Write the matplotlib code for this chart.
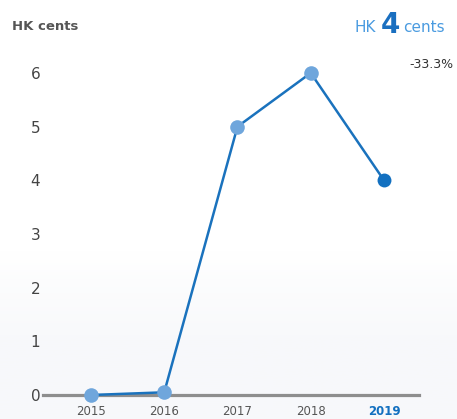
import numpy as np
import matplotlib.pyplot as plt
from matplotlib.colors import LinearSegmentedColormap

# data
years = [2015, 2016, 2017, 2018, 2019]
year_labels = ['2015', '2016', '2017', '2018', '2019']
dividend = [0, 0.05, 5, 6, 4]
y_ticks = [0, 1, 2, 3, 4, 5, 6]

line_col = '#1a72bd'
dot_col = '#6fa6dc'
last_col = '#1270c0'

fig = plt.figure(figsize=(4.57, 4.19), dpi=100)
fig.patch.set_facecolor('white')

# faint grey fade at the bottom, drawn behind everything
bg = fig.add_axes([0, 0, 1, 1], zorder=-1)
bg.axis('off')
fade = LinearSegmentedColormap.from_list('fade', ['#f7f8fb', '#f8f9fb', '#ffffff'])
grad = np.linspace(0, 1, 256).reshape(-1, 1)
bg.imshow(grad, cmap=fade, aspect='auto', origin='lower',
          extent=(0, 1, 0, 0.40))
bg.set_xlim(0, 1)
bg.set_ylim(0, 1)

ax = fig.add_axes([43 / 457, 24 / 419, 376 / 457, 343.5 / 419])
ax.set_facecolor('none')
ax.set_xlim(2014.345, 2019.478)
ax.set_ylim(0, 6.4)

ax.plot(years, dividend, color=line_col, lw=1.8, zorder=3, clip_on=False)
ax.plot(years[:-1], dividend[:-1], 'o', color=dot_col, ms=10.5, mec='none',
        zorder=4, clip_on=False)
ax.plot(years[-1:], dividend[-1:], 'o', color=last_col, ms=10, mec='none',
        zorder=4, clip_on=False)

for s in ['top', 'right', 'left']:
    ax.spines[s].set_visible(False)
ax.spines['bottom'].set_color('#8e8e8e')
ax.spines['bottom'].set_linewidth(2.3)
ax.spines['bottom'].set_zorder(2)

ax.set_yticks(y_ticks)
ax.set_yticklabels([str(t) for t in y_ticks], fontsize=11, color='#444444')
ax.tick_params(axis='y', length=0, pad=2)
ax.set_xticks(years)
ax.set_xticklabels(year_labels, fontsize=8.5, color='#555555')
ax.tick_params(axis='x', length=0, pad=7)
lab = ax.get_xticklabels()[-1]
lab.set_color(last_col)
lab.set_fontweight('bold')

fig.text(12 / 457, 1 - 27 / 419, 'HK cents', fontsize=9.5, fontweight='bold',
         color='#555555', va='center', ha='left')

fig.text(376 / 457, 1 - 28 / 419, 'HK', fontsize=11, color='#4a9be0',
         va='center', ha='right')
fig.text(390 / 457, 1 - 25 / 419, '4', fontsize=20, fontweight='bold',
         color='#1a6fc0', va='center', ha='center')
fig.text(403 / 457, 1 - 28 / 419, 'cents', fontsize=11, color='#4a9be0',
         va='center', ha='left')
fig.text(453 / 457, 1 - 65 / 419, '-33.3%', fontsize=9, color='#333333',
         va='center', ha='right')

fig.savefig('out.png', dpi=100)
